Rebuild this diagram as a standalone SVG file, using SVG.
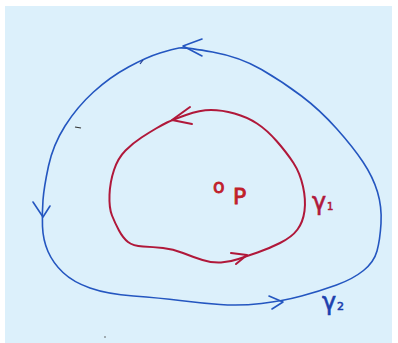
<svg xmlns="http://www.w3.org/2000/svg" width="398" height="343" viewBox="0 0 398 343">
<style>
.blue{fill:none;stroke:#2456c0;stroke-width:1.6;stroke-linecap:round;stroke-linejoin:round}
.red{fill:none;stroke:#b0183a;stroke-width:2;stroke-linecap:round;stroke-linejoin:round}
.lbl{font-family:"DejaVu Sans","Liberation Sans",sans-serif;stroke-width:0.6}
</style>
<rect width="398" height="343" fill="#ffffff"/>
<rect x="5" y="6" width="387" height="337" fill="#dcf0fb"/>
<g id="gamma2">
<path class="blue" d="M212.5,52 Q240,57 261.5,69.5 Q283,82 301.5,96 Q320,110 336.5,128.5 Q353,147 363,162 Q373,177 377.5,192 Q382,207 381,223.5 Q380,240 377,251 Q374,262 363.5,270.5 Q353,279 336.5,285 Q320,291 301.5,296 Q283,301 261.5,303.5 Q240,306 220,304.5 Q200,303 180,300.5 Q160,298 133.5,296 Q107,294 90,288 Q73,282 63,272.5 Q53,263 48,251.5 Q43,240 42.5,226.5 Q42,213 43,200 Q44,187 48.5,166 Q53,145 65,126 Q77,107 93.5,92 Q110,77 128.5,67 Q147,57 160,53 Q173,49 179,48 Q185,47 212.5,52 Z"/>
<path class="blue" d="M202,39 L183,46 L202,56"/>
<path class="blue" d="M33,202 L43,217 L50,206"/>
<path class="blue" d="M269,296 L283,302 L272,309"/>
<text class="lbl" x="322" y="310" font-size="24" fill="#1c3fae" stroke="#1c3fae">γ</text>
<text class="lbl" x="337" y="310" font-size="11" fill="#1c3fae" stroke="#1c3fae">2</text>
</g>
<g id="gamma1">
<path class="red" d="M186,115 Q200,110 211,110 Q222,110 234.5,113.5 Q247,117 257,123.5 Q267,130 277,141.5 Q287,153 293.5,163 Q300,173 303,186.5 Q306,200 304.5,211 Q303,222 297.5,229.5 Q292,237 280,243 Q268,249 257.5,252.5 Q247,256 238.5,259 Q230,262 221,262.5 Q212,263 202.5,260 Q193,257 183,253 Q173,249 163,248 Q153,247 143,246.5 Q133,246 128,242 Q123,238 119,230.5 Q115,223 112,215.5 Q109,208 109.5,195 Q110,182 114,170 Q118,158 125.5,150.5 Q133,143 141.5,137.5 Q150,132 156,128.5 Q162,125 167,122.5 Q172,120 186,115 Z"/>
<path class="red" d="M190,107 L172,120 L192,124"/>
<path class="red" d="M231,253 L247,255 L236,264"/>
<text class="lbl" x="312" y="210" font-size="24" fill="#b0183a" stroke="#b0183a">γ</text>
<text class="lbl" x="327" y="210" font-size="10" fill="#b0183a" stroke="#b0183a">1</text>
</g>
<g id="point-p">
<text font-family="DejaVu Sans,Liberation Sans,sans-serif" fill="#c0202a" stroke="#c0202a" stroke-width="0.8"><tspan x="213" y="193" font-size="19">o</tspan><tspan x="233" y="204" font-size="22">P</tspan></text>
</g>
<g id="marks">
<path d="M140,64 L143,60" stroke="#203a90" stroke-width="1.2" fill="none"/>
<path d="M75,127 L81,128" stroke="#333" stroke-width="1.2" fill="none"/>
<circle cx="105" cy="337" r="0.8" fill="#555"/>
</g>
</svg>
